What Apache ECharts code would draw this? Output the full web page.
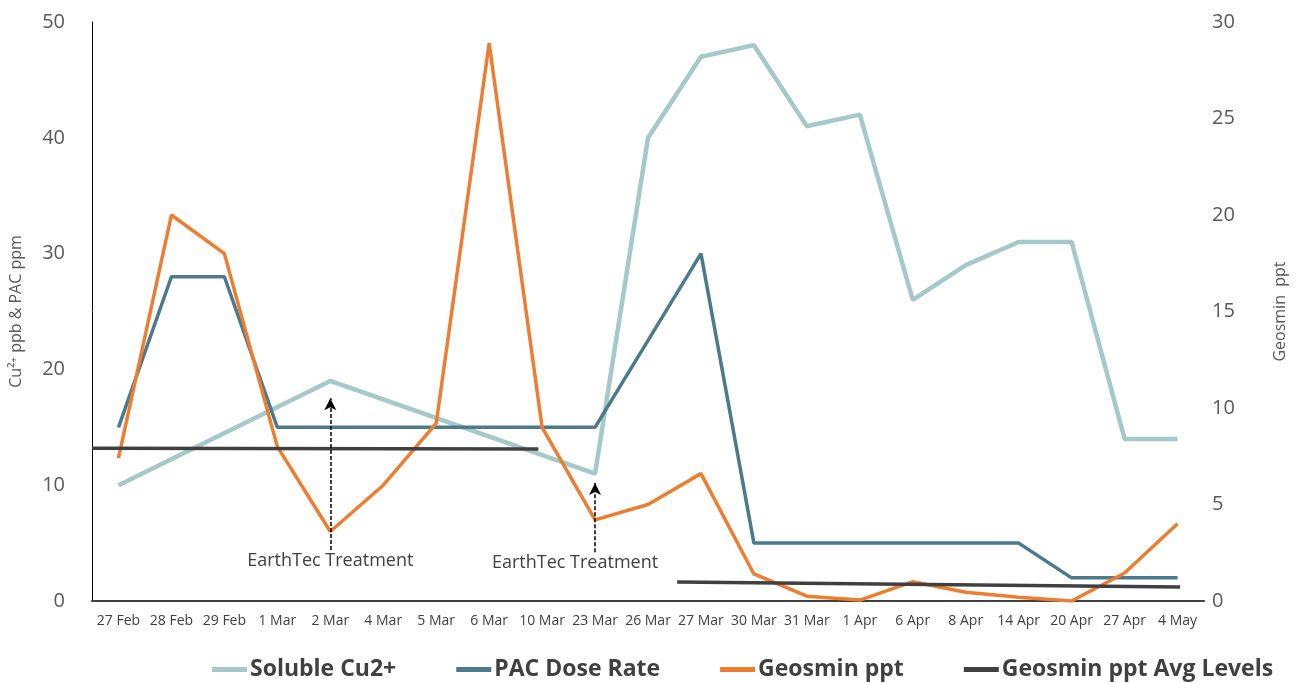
<!DOCTYPE html>
<html>
<head>
<meta charset="utf-8">
<script src="https://cdn.jsdelivr.net/npm/echarts@6/dist/echarts.min.js"></script>
<style>html,body{margin:0;padding:0;background:#fff}#c{width:1304px;height:683px}</style>
</head>
<body>
<div id="c"></div>
<script>
const categories = ['27 Feb','28 Feb','29 Feb','1 Mar','2 Mar','4 Mar','5 Mar','6 Mar','10 Mar','23 Mar','26 Mar','27 Mar','30 Mar','31 Mar','1 Apr','6 Apr','8 Apr','14 Apr','20 Apr','27 Apr','4 May'];
const solubleCu = [10, null, null, null, 19, null, null, null, null, 11, 40, 47, 48, 41, 42, 26, 29, 31, 31, 14, 14];
const pacDose = [15, 28, 28, 15, 15, 15, 15, 15, 15, 15, null, 30, 5, 5, 5, 5, 5, 5, 2, 2, 2];
const geosmin = [7.4, 20, 18, 8, 3.6, 6, 9.2, 28.9, 9, 4.2, 5, 6.6, 1.4, 0.25, 0.05, 1.0, 0.45, 0.2, 0.0, 1.45, 4.0];
// average level segments (x in category-index units, y in geosmin ppt)
const avgSeg1X = [-0.5, 7.93];
const avgSeg1Y = [7.92, 7.87];
const avgSeg2X = [10.55, 20.05];
const avgSeg2Y = [0.98, 0.72];
const treatments = [
  {cat: '2 Mar', from: 4.4, to: 17.5},
  {cat: '23 Mar', from: 4.2, to: 10.2}
];

const FONT = '"Open Sans", "Noto Sans", sans-serif';
const chart = echarts.init(document.getElementById('c'));
const pair = (xs, ys) => xs.map((x, i) => [x, ys[i]]);

chart.setOption({
  animation: false,
  textStyle: {fontFamily: FONT},
  grid: {left: 90, right: 100, top: 22, bottom: 82},
  legend: {
    top: 653,
    left: 207,
    icon: 'rect',
    itemWidth: 35,
    itemHeight: 5,
    itemGap: 60,
    textStyle: {fontFamily: FONT, fontSize: 23, fontWeight: 'bold', color: '#404040', padding: [0, 0, 0, -2]},
    data: ['Soluble Cu2+', 'PAC Dose Rate', 'Geosmin ppt', 'Geosmin ppt Avg Levels']
  },
  xAxis: [
    {
      type: 'category',
      data: categories,
      boundaryGap: true,
      axisLine: {show: true, lineStyle: {color: '#404040', width: 2}},
      axisTick: {show: false},
      axisLabel: {color: '#404040', fontSize: 14, interval: 0, margin: 13}
    },
    {type: 'value', min: -0.5, max: 20.5, show: false}
  ],
  yAxis: [
    {
      type: 'value', min: 0, max: 50, interval: 10,
      name: 'Cu²⁺ ppb & PAC ppm', nameLocation: 'middle', nameRotate: 90, nameGap: 68,
      nameTextStyle: {color: '#595959', fontSize: 16},
      axisLine: {show: true, onZero: false, lineStyle: {color: '#000', width: 1}},
      axisTick: {show: false},
      splitLine: {show: false},
      axisLabel: {color: '#595959', fontSize: 20, margin: 27}
    },
    {
      type: 'value', min: 0, max: 30, interval: 5,
      name: 'Geosmin  ppt', nameLocation: 'middle', nameRotate: 90, nameGap: 68,
      nameTextStyle: {color: '#595959', fontSize: 16},
      axisLine: {show: false, onZero: false},
      axisTick: {show: false},
      splitLine: {show: false},
      axisLabel: {color: '#595959', fontSize: 20, margin: 8}
    }
  ],
  series: [
    {
      name: 'Soluble Cu2+', type: 'line', data: solubleCu, connectNulls: true,
      yAxisIndex: 0, symbol: 'none', color: '#A5C8CA',
      lineStyle: {width: 4.5, color: '#A5C8CA'}
    },
    {
      name: 'PAC Dose Rate', type: 'line', data: pacDose, connectNulls: true,
      yAxisIndex: 0, symbol: 'none', color: '#4B7A8C',
      lineStyle: {width: 3.5, color: '#4B7A8C'},
      markLine: {
        silent: true,
        symbol: ['none', 'arrow'],
        symbolSize: [9, 12],
        lineStyle: {type: [4, 2], color: '#000', width: 1.5},
        label: {
          show: true, position: 'start', formatter: 'EarthTec Treatment',
          color: '#404040', fontSize: 18, fontFamily: FONT, distance: 2
        },
        data: treatments.map((t, i) => [
          {coord: [t.cat, t.from], label: i === 1 ? {padding: [0, 40, 0, 0]} : {}},
          {coord: [t.cat, t.to]}
        ])
      }
    },
    {
      name: 'Geosmin ppt', type: 'line', data: geosmin,
      yAxisIndex: 1, symbol: 'none', color: '#ED7D31',
      lineStyle: {width: 3.5, color: '#ED7D31'}
    },
    {
      name: 'Geosmin ppt Avg Levels', type: 'line', data: pair(avgSeg1X, avgSeg1Y),
      xAxisIndex: 1, yAxisIndex: 1, symbol: 'none', color: '#404040',
      lineStyle: {width: 3.5, color: '#404040'}
    },
    {
      name: 'Geosmin ppt Avg Levels', type: 'line', data: pair(avgSeg2X, avgSeg2Y),
      xAxisIndex: 1, yAxisIndex: 1, symbol: 'none', color: '#404040',
      lineStyle: {width: 3.5, color: '#404040'}
    }
  ]
});
</script>
</body>
</html>
